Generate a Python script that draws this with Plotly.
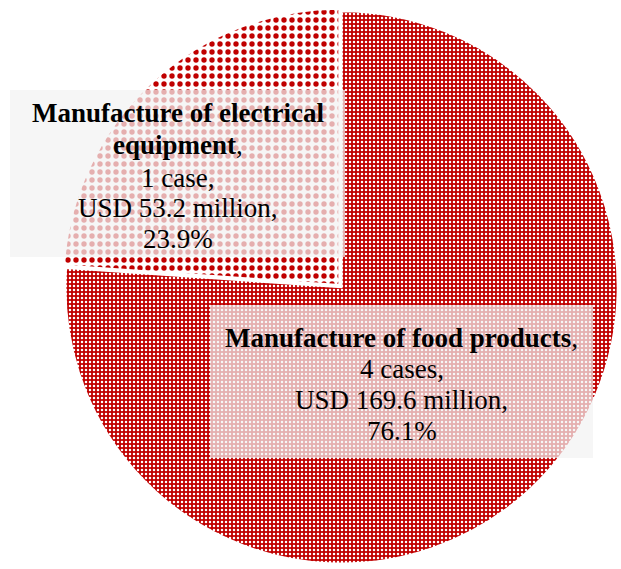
import plotly.graph_objects as go

# ---- data ----
sectors = ["Manufacture of food products", "Manufacture of electrical equipment"]
label_lines_bold = [["Manufacture of food products"], ["Manufacture of electrical", "equipment"]]
cases = [4, 1]
amounts_musd = [169.6, 53.2]
shares_pct = [76.1, 23.9]

RED = "#C00000"
W, H = 621, 569

fig = go.Figure()
fig.add_trace(go.Pie(
    labels=sectors,
    values=amounts_musd,
    sort=False,
    direction="clockwise",
    rotation=0,
    pull=[0, 0.012],
    textinfo="none",
    hoverinfo="label+value+percent",
    showlegend=False,
    domain=dict(x=[0.1, 1.0], y=[0.0, 0.99]),
    marker=dict(
        colors=[RED, "white"],
        line=dict(color="white", width=2),
        pattern=dict(
            shape=[".", "."],
            fgcolor=["white", RED],
            bgcolor=[RED, "white"],
            size=[4, 8],
            solidity=[0.3, 0.35],
            fillmode="replace",
        ),
    ),
))

# label boxes (pixel geometry) and text lines
boxes = [
    dict(x0=210, x1=593, y0=305, y1=458, line_y=[338, 369, 400, 431]),   # food
    dict(x0=10, x1=345, y0=90, y1=257, line_y=[113, 145, 178, 208, 239]),  # electrical
]

shapes = []
annotations = []
for i, b in enumerate(boxes):
    shapes.append(dict(
        type="rect", xref="paper", yref="paper", layer="above",
        x0=b["x0"] / W, x1=b["x1"] / W, y0=1 - b["y1"] / H, y1=1 - b["y0"] / H,
        fillcolor="rgba(242,242,242,0.72)", line=dict(width=0),
    ))
    bold = label_lines_bold[i]
    lines = [f"<b>{t}</b>" for t in bold]
    lines[-1] += ","
    lines.append(f"{cases[i]} case{'s' if cases[i] != 1 else ''},")
    lines.append(f"USD {amounts_musd[i]:.1f} million,")
    lines.append(f"{shares_pct[i]:.1f}%")
    cx = (b["x0"] + b["x1"]) / 2 / W
    for txt, ly in zip(lines, b["line_y"]):
        annotations.append(dict(
            x=cx, y=1 - ly / H, xref="paper", yref="paper",
            text=txt, showarrow=False, xanchor="center", yanchor="middle",
            font=dict(family="Liberation Serif", size=27, color="black"),
        ))

fig.update_layout(
    width=W, height=H,
    margin=dict(l=0, r=0, t=0, b=0),
    paper_bgcolor="white",
    plot_bgcolor="white",
    shapes=shapes,
    annotations=annotations,
)

fig.write_html(
    "out.html",
    config={"displayModeBar": False},
    post_script="document.body.style.margin='0';document.body.style.overflow='hidden';",
)
